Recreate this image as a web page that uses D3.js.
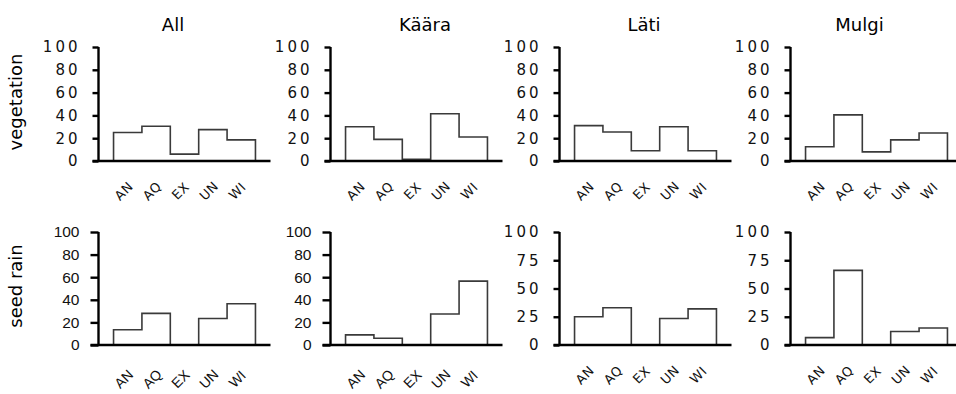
<!DOCTYPE html>
<html>
<head>
<meta charset="utf-8">
<script src="https://cdn.jsdelivr.net/npm/d3@7"></script>
<style>
  body { margin: 0; background: #fff; }
  svg { display: block; }
</style>
</head>
<body>
<div id="chart"></div>
<script>
const categories = ['AN', 'AQ', 'EX', 'UN', 'WI'];
const sites = ['All', 'Käära', 'Läti', 'Mulgi'];
const rowLabels = ['vegetation', 'seed rain'];

// percentages
const vegetationAll = [25, 30.5, 6, 27.5, 18.5];
const vegetationKaara = [30, 19, 1.5, 41.5, 21];
const vegetationLati = [31, 25.5, 9, 30, 9];
const vegetationMulgi = [12.5, 40.5, 8, 18.5, 24.5];
const seedRainAll = [13.5, 28, 0, 23.5, 36.5];
const seedRainKaara = [9, 6, 0, 27.5, 56.5];
const seedRainLati = [25, 33, 0, 23.5, 32];
const seedRainMulgi = [6.5, 66, 0, 12, 15];

const ticksBy20 = [0, 20, 40, 60, 80, 100];
const ticksBy25 = [0, 25, 50, 75, 100];

const W = 956, H = 394;
const VERDANA = 'Verdana, "DejaVu Sans", sans-serif';
const ARIAL = 'Arial, "Liberation Sans", Helvetica, sans-serif';

const colX = [98.5, 330.5, 559.5, 790.5];
const titleX = [173, 425, 644, 859.5];
const rows = [
  { top: 47, bottom: 161, label: rowLabels[0], labelY: 102,
    data: [vegetationAll, vegetationKaara, vegetationLati, vegetationMulgi],
    ticks: [ticksBy20, ticksBy20, ticksBy20, ticksBy20],
    fonts: ['v', 'v', 'v', 'v'] },
  { top: 232, bottom: 345, label: rowLabels[1], labelY: 286,
    data: [seedRainAll, seedRainKaara, seedRainLati, seedRainMulgi],
    ticks: [ticksBy20, ticksBy20, ticksBy25, ticksBy25],
    fonts: ['a', 'a', 'v', 'v'] }
];

const svg = d3.select('#chart').append('svg')
  .attr('width', W)
  .attr('height', H);

// column titles
sites.forEach((s, i) => {
  svg.append('text')
    .attr('x', titleX[i])
    .attr('y', 30.5)
    .attr('text-anchor', 'middle')
    .style('font-family', VERDANA)
    .style('font-size', '18px')
    .text(s);
});

rows.forEach((row, r) => {
  svg.append('text')
    .attr('transform', 'translate(22,' + row.labelY + ') rotate(-90)')
    .attr('text-anchor', 'middle')
    .style('font-family', VERDANA)
    .style('font-size', '18px')
    .text(row.label);

  row.data.forEach((values, c) => {
    const x0 = colX[c];
    const isArial = row.fonts[c] === 'a';
    const font = isArial ? ARIAL : VERDANA;
    const tickLen = isArial ? 8 : 6;

    const x = d3.scaleBand()
      .domain(categories)
      .range([x0, x0 + 172])
      .paddingInner(0)
      .paddingOuter(0.53);
    const y = d3.scaleLinear()
      .domain([0, 100])
      .range([row.bottom, row.top]);

    const g = svg.append('g');

    // step outline of the bars
    const pts = [[x(categories[0]), 0]];
    values.forEach((v, i) => {
      pts.push([x(categories[i]), v]);
      pts.push([x(categories[i]) + x.bandwidth(), v]);
    });
    pts.push([x(categories[categories.length - 1]) + x.bandwidth(), 0]);
    const line = d3.line()
      .x(d => d[0])
      .y(d => y(d[1]));
    g.append('path')
      .attr('d', line(pts) + 'Z')
      .attr('fill', '#fff')
      .attr('stroke', '#3a3a3a')
      .attr('stroke-width', 1.6);

    // y axis
    const yAxis = d3.axisLeft(y)
      .tickValues(row.ticks[c])
      .tickSize(tickLen)
      .tickSizeOuter(0)
      .tickPadding(isArial ? 11 : 12);
    const ya = g.append('g')
      .attr('transform', 'translate(' + x0 + ',0)')
      .call(yAxis);
    ya.select('.domain')
      .attr('d', 'M0,' + (row.bottom + 1) + 'V' + row.top)
      .attr('stroke', '#000')
      .attr('stroke-width', 2.4);
    ya.selectAll('.tick line')
      .attr('stroke', '#000')
      .attr('stroke-width', 2.4);
    ya.selectAll('.tick text')
      .style('font-family', font)
      .style('font-size', isArial ? '15.5px' : '15px')
      .style('letter-spacing', isArial ? '0px' : '3px')
      .attr('fill', '#111');

    // x axis
    const xAxis = d3.axisBottom(x)
      .tickSize(0)
      .tickSizeOuter(0);
    const xa = g.append('g')
      .attr('transform', 'translate(0,' + row.bottom + ')')
      .call(xAxis);
    xa.select('.domain')
      .attr('d', 'M' + (x0 - tickLen) + ',0H' + (x0 + 172))
      .attr('stroke', '#000')
      .attr('stroke-width', 2.4);
    xa.selectAll('.tick text')
      .attr('x', -4)
      .attr('y', isArial ? 34 : 30)
      .attr('dy', '0.35em')
      .attr('text-anchor', 'middle')
      .attr('transform', null)
      .each(function () {
        const t = d3.select(this);
        t.attr('transform', 'rotate(-45,' + t.attr('x') + ',' + t.attr('y') + ')');
      })
      .style('font-family', font)
      .style('font-size', isArial ? '14px' : '13px')
      .style('letter-spacing', isArial ? '0px' : '0.5px')
      .attr('fill', '#111');
  });
});
</script>
</body>
</html>
